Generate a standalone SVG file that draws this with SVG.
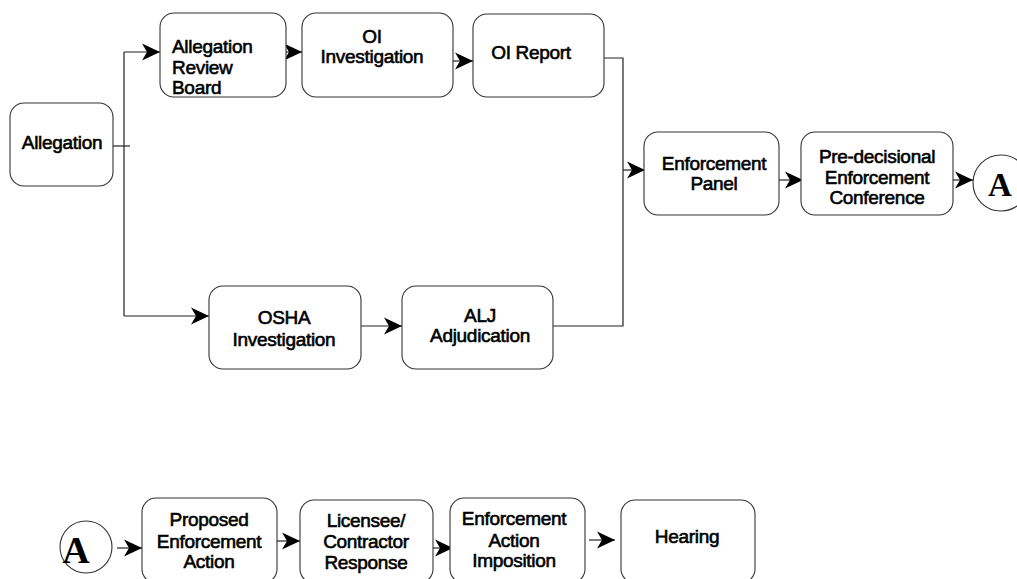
<svg xmlns="http://www.w3.org/2000/svg" width="1017" height="579" viewBox="0 0 1017 579">
<style>
.box{fill:#fff;stroke:#333;stroke-width:1.1}
.t{font-family:"Liberation Sans",Arial,sans-serif;font-size:19px;fill:#000;stroke:#000;stroke-width:0.6;letter-spacing:-0.3px;text-anchor:middle}
.tl{text-anchor:start}
.c{font-family:"Liberation Serif","Times New Roman",serif;font-weight:bold;fill:#000;text-anchor:middle}
.ln{fill:none;stroke:#222;stroke-width:1.2}
.ar{marker-end:url(#arr)}
</style>
<defs>
<marker id="arr" markerUnits="userSpaceOnUse" markerWidth="19" markerHeight="18" refX="18" refY="9" orient="auto" viewBox="0 0 19 18">
<path d="M0,0.5 L18,9 L0,17.5 L5,9 z" fill="#000"/>
</marker>
</defs>
<rect width="1017" height="579" fill="#fff"/>
<g id="connectors">
<path class="ln" d="M113,146 H130"/>
<path class="ln" d="M124,52 V316"/>
<path class="ln ar" d="M124,52 H160"/>
<path class="ln ar" d="M124,316 H209"/>
<path class="ln ar" d="M286,52 H302"/>
<path class="ln ar" d="M453,61 H473"/>
<path class="ln" d="M604,58 H623 V326 H553"/>
<path class="ln ar" d="M623,170 H645"/>
<path class="ln ar" d="M361,326 H402"/>
<path class="ln ar" d="M779,180 H803"/>
<path class="ln ar" d="M953,180 H973"/>
<path class="ln ar" d="M117,548 H142"/>
<path class="ln ar" d="M277,541 H300"/>
<path class="ln ar" d="M433,548 H453"/>
<path class="ln ar" d="M589,540 H615"/>
</g>
<g id="allegation"><rect class="box" x="10" y="103" width="103" height="83" rx="14"/><text class="t" x="62" y="149">Allegation</text></g>
<g id="arb"><rect class="box" x="160" y="13" width="126" height="84" rx="14"/><text class="t tl" x="172" y="53">Allegation</text><text class="t tl" x="172" y="74">Review</text><text class="t tl" x="172" y="94">Board</text></g>
<g id="oi-investigation"><rect class="box" x="302" y="13" width="151" height="84" rx="14"/><text class="t" x="372" y="43">OI</text><text class="t" x="372" y="63">Investigation</text></g>
<g id="oi-report"><rect class="box" x="473" y="14" width="131" height="83" rx="14"/><text class="t" x="531" y="59">OI Report</text></g>
<g id="osha"><rect class="box" x="209" y="286" width="152" height="83" rx="14"/><text class="t" x="284" y="324">OSHA</text><text class="t" x="284" y="346">Investigation</text></g>
<g id="alj"><rect class="box" x="402" y="286" width="151" height="83" rx="14"/><text class="t" x="480" y="322">ALJ</text><text class="t" x="480" y="342">Adjudication</text></g>
<g id="panel"><rect class="box" x="644" y="132" width="135" height="83" rx="14"/><text class="t" x="714" y="170">Enforcement</text><text class="t" x="714" y="190">Panel</text></g>
<g id="predecisional"><rect class="box" x="801" y="132" width="152" height="83" rx="14"/><text class="t" x="877" y="163">Pre-decisional</text><text class="t" x="877" y="184">Enforcement</text><text class="t" x="877" y="204">Conference</text></g>
<g id="connector-a1"><circle class="box" cx="1001" cy="183" r="28"/><text class="c" x="1000" y="196" font-size="33">A</text></g>
<g id="connector-a2"><circle class="box" cx="86" cy="547" r="26"/><text class="c" x="76" y="563" font-size="38">A</text></g>
<g id="proposed"><rect class="box" x="142" y="498" width="135" height="85" rx="14"/><text class="t" x="209" y="526">Proposed</text><text class="t" x="209" y="548">Enforcement</text><text class="t" x="209" y="568">Action</text></g>
<g id="licensee"><rect class="box" x="300" y="500" width="133" height="83" rx="14"/><text class="t" x="366" y="527">Licensee/</text><text class="t" x="366" y="548">Contractor</text><text class="t" x="366" y="569">Response</text></g>
<g id="imposition"><rect class="box" x="450" y="498" width="135" height="85" rx="14"/><text class="t" x="514" y="525">Enforcement</text><text class="t" x="514" y="547">Action</text><text class="t" x="514" y="567">Imposition</text></g>
<g id="hearing"><rect class="box" x="621" y="500" width="134" height="83" rx="14"/><text class="t" x="687" y="543">Hearing</text></g>
</svg>
